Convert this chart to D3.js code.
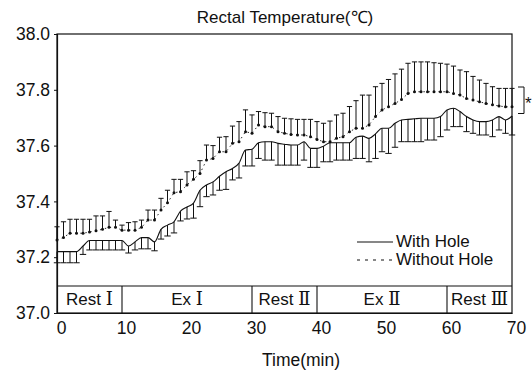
<!DOCTYPE html>
<html>
<head>
<meta charset="utf-8">
<script src="https://cdn.jsdelivr.net/npm/d3@7"></script>
<style>
  body { margin: 0; background: #fff; }
  svg text { font-family: "Liberation Sans", Arial, sans-serif; fill: #111; }
</style>
</head>
<body>
<div id="chart"></div>
<script>
var width = 532, height = 374

// minutes
var minutes = [0,1,2,3,4,5,6,7,8,9,10,11,12,13,14,15,16,17,18,19,20,21,22,23,24,25,26,27,28,29,30,
  31,32,33,34,35,36,37,38,39,40,41,42,43,44,45,46,47,48,49,50,51,52,53,54,55,56,57,58,59,60,
  61,62,63,64,65,66,67,68,69,70]

// With Hole: mean and lower end of the error bar
var withHoleMean = [37.22,37.22,37.22,37.22,37.24,37.26,37.26,37.26,37.26,37.26,37.26,37.24,37.255,37.27,37.27,37.255,
  37.30,37.315,37.327,37.365,37.38,37.394,37.44,37.459,37.47,37.49,37.506,37.518,37.537,37.584,37.587,
  37.61,37.614,37.614,37.608,37.605,37.602,37.602,37.614,37.59,37.59,37.598,37.61,37.61,37.61,37.61,
  37.63,37.634,37.626,37.642,37.662,37.662,37.68,37.692,37.694,37.696,37.698,37.698,37.698,37.704,
  37.728,37.734,37.722,37.704,37.692,37.686,37.686,37.692,37.704,37.692,37.706]
var withHoleLow = [37.18,37.18,37.18,37.18,37.21,37.226,37.226,37.226,37.226,37.226,37.226,37.215,37.226,37.23,37.23,37.223,
  37.265,37.276,37.287,37.33,37.337,37.34,37.381,37.417,37.423,37.44,37.443,37.477,37.484,37.527,37.527,
  37.554,37.548,37.548,37.53,37.53,37.53,37.53,37.548,37.522,37.522,37.542,37.542,37.548,37.548,37.548,
  37.554,37.554,37.542,37.554,37.578,37.572,37.594,37.614,37.614,37.614,37.614,37.62,37.62,37.632,
  37.656,37.668,37.668,37.65,37.644,37.638,37.638,37.632,37.656,37.644,37.638]

// Without Hole: mean and upper end of the error bar
var withoutHoleMean = [37.262,37.271,37.286,37.286,37.286,37.29,37.295,37.30,37.307,37.307,37.297,37.297,37.297,37.307,37.333,37.333,
  37.369,37.395,37.431,37.435,37.459,37.479,37.50,37.548,37.554,37.578,37.578,37.608,37.614,37.65,37.644,
  37.674,37.668,37.668,37.65,37.644,37.64,37.638,37.638,37.632,37.622,37.614,37.614,37.626,37.632,37.65,
  37.662,37.662,37.674,37.704,37.728,37.739,37.751,37.765,37.787,37.793,37.793,37.793,37.793,37.793,
  37.793,37.787,37.781,37.769,37.763,37.757,37.751,37.746,37.742,37.739,37.739]
var withoutHoleHigh = [37.309,37.327,37.336,37.336,37.336,37.336,37.348,37.348,37.364,37.333,37.315,37.324,37.327,37.333,37.369,37.369,
  37.411,37.44,37.479,37.479,37.506,37.51,37.546,37.602,37.60,37.63,37.632,37.67,37.686,37.728,37.71,
  37.722,37.718,37.716,37.704,37.698,37.696,37.694,37.694,37.694,37.686,37.68,37.688,37.71,37.716,37.74,
  37.761,37.781,37.781,37.811,37.823,37.837,37.857,37.874,37.895,37.90,37.90,37.90,37.897,37.895,
  37.892,37.885,37.871,37.865,37.848,37.835,37.823,37.811,37.805,37.805,37.805]

var phaseStart = [0, 10, 30, 40, 60]
var phaseEnd = [10, 30, 40, 60, 70]
var phaseWord = ["Rest", "Ex", "Rest", "Ex", "Rest"]
var phaseNum = ["\u2160", "\u2160", "\u2161", "\u2161", "\u2162"]

var yTicks = [37.0, 37.2, 37.4, 37.6, 37.8, 38.0]
var xTicks = [0, 10, 20, 30, 40, 50, 60, 70]

var plotL = 57, plotR = 512, plotT = 34, plotB = 313
var ink = "#111"

var x = d3.scaleLinear().domain([0, 70]).range([plotL, plotR])
var y = d3.scaleLinear().domain([37.0, 38.0]).range([plotB, plotT])

var svg = d3.select("#chart").append("svg")
  .attr("width", width)
  .attr("height", height)

// title
svg.append("text")
  .attr("x", 285).attr("y", 23)
  .attr("text-anchor", "middle")
  .style("font-size", "17px")
  .text("Rectal Temperature(\u2103)")

// frame
svg.append("rect")
  .attr("x", plotL).attr("y", plotT)
  .attr("width", plotR - plotL).attr("height", plotB - plotT)
  .attr("fill", "none").attr("stroke", ink).attr("stroke-width", 1.2)

// y axis
var yAxis = svg.append("g")
  .attr("transform", "translate(" + plotL + ",0)")
  .call(d3.axisLeft(y).tickValues(yTicks).tickSize(3).tickPadding(4).tickFormat(d3.format(".1f")))
yAxis.select(".domain").attr("stroke", ink).attr("stroke-width", 1.2)
yAxis.selectAll("line").attr("stroke", ink)
yAxis.selectAll("text").style("font-size", "17.5px").attr("fill", ink)

// x axis
var xAxis = svg.append("g")
  .attr("transform", "translate(0," + plotB + ")")
  .call(d3.axisBottom(x).tickValues(xTicks).tickSize(0).tickPadding(9))
xAxis.select(".domain").attr("stroke", ink).attr("stroke-width", 1.2)
xAxis.selectAll("text").style("font-size", "17.5px").attr("fill", ink).attr("dx", 4)

svg.append("text")
  .attr("x", 301).attr("y", 366)
  .attr("text-anchor", "middle")
  .style("font-size", "17.5px")
  .text("Time(min)")

// phase boxes
var phaseTop = 286
var phases = svg.append("g")
phases.append("line")
  .attr("x1", plotL).attr("x2", plotR)
  .attr("y1", phaseTop).attr("y2", phaseTop)
  .attr("stroke", ink).attr("stroke-width", 1.1)
phases.selectAll("line.div")
  .data(phaseStart.slice(1))
  .enter().append("line")
  .attr("class", "div")
  .attr("x1", function(d){ return x(d) }).attr("x2", function(d){ return x(d) })
  .attr("y1", phaseTop).attr("y2", plotB)
  .attr("stroke", ink).attr("stroke-width", 1.1)
var pl = phases.selectAll("text")
  .data(phaseStart)
  .enter().append("text")
  .attr("x", function(d, i){ return (x(d) + x(phaseEnd[i])) / 2 })
  .attr("y", 305)
  .attr("text-anchor", "middle")
  .style("font-size", "17px")
pl.append("tspan").text(function(d, i){ return phaseWord[i] + " " })
pl.append("tspan")
  .style("font-family", "'Liberation Serif', 'DejaVu Serif', serif")
  .style("font-size", "18px")
  .text(function(d, i){ return phaseNum[i] })

// With Hole: error bars down
var withG = svg.append("g").attr("stroke", ink).attr("stroke-width", 1)
withG.selectAll("line.bar")
  .data(minutes).enter().append("line")
  .attr("class", "bar")
  .attr("x1", function(d){ return x(d) }).attr("x2", function(d){ return x(d) })
  .attr("y1", function(d, i){ return y(withHoleMean[i]) })
  .attr("y2", function(d, i){ return y(withHoleLow[i]) })
withG.selectAll("line.cap")
  .data(minutes).enter().append("line")
  .attr("class", "cap")
  .attr("x1", function(d){ return x(d) - 3.2 }).attr("x2", function(d){ return x(d) + 3.2 })
  .attr("y1", function(d, i){ return y(withHoleLow[i]) })
  .attr("y2", function(d, i){ return y(withHoleLow[i]) })

var withLine = d3.line()
  .x(function(d){ return x(d) })
  .y(function(d, i){ return y(withHoleMean[i]) })
  .curve(d3.curveMonotoneX)
svg.append("path")
  .datum(minutes)
  .attr("d", withLine)
  .attr("fill", "none").attr("stroke", ink).attr("stroke-width", 1.1)

// Without Hole: error bars up
var woG = svg.append("g").attr("stroke", ink).attr("stroke-width", 1)
woG.selectAll("line.bar")
  .data(minutes).enter().append("line")
  .attr("class", "bar")
  .attr("x1", function(d){ return x(d) }).attr("x2", function(d){ return x(d) })
  .attr("y1", function(d, i){ return y(withoutHoleMean[i]) })
  .attr("y2", function(d, i){ return y(withoutHoleHigh[i]) })
woG.selectAll("line.cap")
  .data(minutes).enter().append("line")
  .attr("class", "cap")
  .attr("x1", function(d){ return x(d) - 2.6 }).attr("x2", function(d){ return x(d) + 2.6 })
  .attr("y1", function(d, i){ return y(withoutHoleHigh[i]) })
  .attr("y2", function(d, i){ return y(withoutHoleHigh[i]) })

var woLine = d3.line()
  .x(function(d){ return x(d) })
  .y(function(d, i){ return y(withoutHoleMean[i]) })
svg.append("path")
  .datum(minutes)
  .attr("d", woLine)
  .attr("fill", "none").attr("stroke", ink).attr("stroke-width", 0.9)
  .attr("stroke-dasharray", "1.5,3.5")
svg.append("g").selectAll("circle")
  .data(minutes).enter().append("circle")
  .attr("cx", function(d){ return x(d) })
  .attr("cy", function(d, i){ return y(withoutHoleMean[i]) })
  .attr("r", 1.5)
  .attr("fill", ink)

// significance bracket
var sig = svg.append("g")
sig.append("path")
  .attr("d", "M518," + y(37.81) + "H524V" + y(37.715) + "H518")
  .attr("fill", "none").attr("stroke", ink).attr("stroke-width", 1)
sig.append("text")
  .attr("x", 525).attr("y", y(37.73))
  .style("font-size", "17px")
  .text("*")

// legend
var lg = svg.append("g")
lg.append("line")
  .attr("x1", 357).attr("x2", 393).attr("y1", 242).attr("y2", 242)
  .attr("stroke", ink).attr("stroke-width", 1.1)
lg.append("line")
  .attr("x1", 357).attr("x2", 393).attr("y1", 260).attr("y2", 260)
  .attr("stroke", ink).attr("stroke-width", 1.1).attr("stroke-dasharray", "3,5")
lg.append("text").attr("x", 396).attr("y", 247).style("font-size", "17px").text("With Hole")
lg.append("text").attr("x", 396).attr("y", 265).style("font-size", "17px").text("Without Hole")
</script>
</body>
</html>
